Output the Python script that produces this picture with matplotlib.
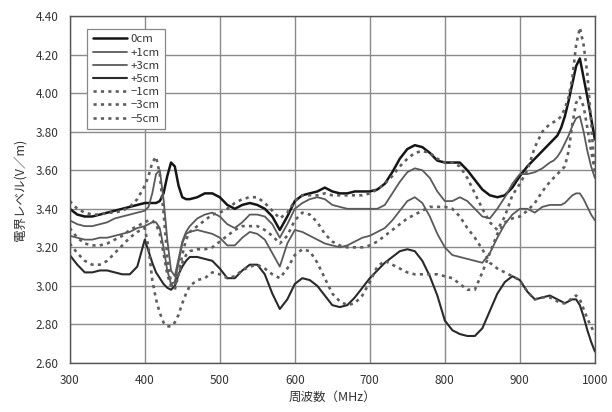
import matplotlib
matplotlib.use("Agg")
import matplotlib.pyplot as plt
import numpy as np

plt.rcParams["font.family"] = ["Noto Sans CJK JP", "DejaVu Sans"]

# frequency grid (MHz): 10 MHz steps, 5 MHz around the sharp resonances
freq = np.concatenate([np.arange(300, 401, 10), np.arange(405, 461, 5),
                       np.arange(470, 941, 10), np.arange(945, 1001, 5)])

# field level (V/m) per probe offset
p0 = [3.40, 3.37, 3.36, 3.36, 3.37, 3.38, 3.39, 3.40, 3.41, 3.42, 3.43,
      3.43, 3.43, 3.43, 3.44, 3.48, 3.57, 3.64, 3.62, 3.52, 3.46, 3.45, 3.45,
      3.46, 3.48, 3.48, 3.46, 3.42, 3.40, 3.42, 3.43, 3.42, 3.40,
      3.36, 3.29, 3.36, 3.44, 3.47, 3.48, 3.49, 3.51, 3.49, 3.48,
      3.48, 3.49, 3.49, 3.49, 3.50, 3.53, 3.59, 3.66, 3.71, 3.73,
      3.72, 3.69, 3.65, 3.64, 3.64, 3.64, 3.60, 3.55, 3.50, 3.47,
      3.46, 3.47, 3.51, 3.57, 3.62, 3.66, 3.70, 3.74,
      3.76, 3.78, 3.82, 3.88, 3.96, 4.05, 4.14, 4.18, 4.08, 3.98, 3.87, 3.76]

p1 = [3.34, 3.32, 3.31, 3.31, 3.32, 3.33, 3.35, 3.36, 3.37, 3.38, 3.39,
      3.41, 3.48, 3.58, 3.60, 3.45, 3.24, 3.08, 3.05, 3.14, 3.23, 3.28, 3.31,
      3.35, 3.37, 3.38, 3.36, 3.32, 3.30, 3.33, 3.37, 3.37, 3.36,
      3.32, 3.25, 3.32, 3.40, 3.43, 3.45, 3.46, 3.45, 3.42, 3.41,
      3.40, 3.40, 3.40, 3.40, 3.40, 3.42, 3.48, 3.54, 3.59, 3.61,
      3.60, 3.56, 3.49, 3.44, 3.44, 3.46, 3.44, 3.40, 3.36, 3.35,
      3.40, 3.46, 3.53, 3.58, 3.58, 3.59, 3.61, 3.64,
      3.65, 3.67, 3.70, 3.74, 3.78, 3.83, 3.87, 3.88, 3.80, 3.70, 3.62, 3.56]

p3 = [3.26, 3.25, 3.24, 3.24, 3.25, 3.25, 3.26, 3.27, 3.28, 3.30, 3.31,
      3.32, 3.33, 3.33, 3.30, 3.20, 3.08, 3.01, 3.02, 3.12, 3.22, 3.27, 3.28,
      3.29, 3.28, 3.27, 3.25, 3.21, 3.21, 3.25, 3.28, 3.27, 3.24,
      3.17, 3.10, 3.22, 3.29, 3.28, 3.26, 3.24, 3.22, 3.21, 3.20,
      3.21, 3.23, 3.25, 3.26, 3.28, 3.30, 3.34, 3.39, 3.44, 3.46,
      3.43, 3.36, 3.27, 3.20, 3.16, 3.15, 3.14, 3.13, 3.12, 3.17,
      3.25, 3.32, 3.37, 3.40, 3.40, 3.38, 3.41, 3.42,
      3.42, 3.42, 3.42, 3.43, 3.45, 3.47, 3.48, 3.48, 3.45, 3.41, 3.37, 3.34]

p5 = [3.16, 3.11, 3.07, 3.07, 3.08, 3.08, 3.07, 3.06, 3.06, 3.10, 3.24,
      3.18, 3.12, 3.07, 3.04, 3.01, 2.99, 2.98, 3.00, 3.06, 3.10, 3.13, 3.15,
      3.15, 3.14, 3.13, 3.09, 3.04, 3.04, 3.08, 3.11, 3.11, 3.06,
      2.96, 2.88, 2.93, 3.01, 3.04, 3.03, 3.00, 2.95, 2.90, 2.89,
      2.90, 2.94, 2.99, 3.04, 3.08, 3.12, 3.15, 3.18, 3.19, 3.18,
      3.13, 3.05, 2.95, 2.82, 2.77, 2.75, 2.74, 2.74, 2.78, 2.87,
      2.96, 3.02, 3.05, 3.03, 2.97, 2.93, 2.94, 2.95,
      2.94, 2.93, 2.92, 2.91, 2.92, 2.93, 2.93, 2.90, 2.84, 2.77, 2.71, 2.66]

m1 = [3.44, 3.40, 3.38, 3.37, 3.37, 3.38, 3.38, 3.39, 3.41, 3.45, 3.52,
      3.57, 3.64, 3.67, 3.58, 3.38, 3.15, 3.01, 2.98, 3.06, 3.16, 3.24, 3.28,
      3.31, 3.34, 3.37, 3.38, 3.40, 3.43, 3.45, 3.46, 3.46, 3.43,
      3.39, 3.35, 3.38, 3.44, 3.47, 3.47, 3.47, 3.48, 3.47, 3.47,
      3.47, 3.47, 3.47, 3.48, 3.50, 3.53, 3.57, 3.62, 3.66, 3.69,
      3.70, 3.69, 3.66, 3.64, 3.64, 3.62, 3.56, 3.48, 3.40, 3.33,
      3.29, 3.36, 3.47, 3.53, 3.60, 3.72, 3.80, 3.84,
      3.85, 3.86, 3.88, 3.92, 3.98, 4.08, 4.25, 4.34, 4.25, 4.10, 3.85, 3.58]

m3 = [3.22, 3.17, 3.13, 3.11, 3.11, 3.13, 3.17, 3.21, 3.25, 3.28, 3.30,
      3.20, 3.03, 2.93, 2.86, 2.81, 2.79, 2.79, 2.81, 2.85, 2.91, 2.96, 3.00,
      3.03, 3.04, 3.07, 3.06, 3.04, 3.05, 3.08, 3.10, 3.11, 3.09,
      3.06, 3.04, 3.09, 3.16, 3.19, 3.18, 3.12, 3.04, 2.96, 2.92,
      2.90, 2.91, 2.95, 3.02, 3.10, 3.13, 3.11, 3.09, 3.07, 3.06,
      3.06, 3.06, 3.06, 3.05, 3.04, 3.01, 2.98, 2.98, 3.07, 3.17,
      3.27, 3.33, 3.35, 3.36, 3.39, 3.43, 3.49, 3.54,
      3.56, 3.58, 3.60, 3.62, 3.70, 3.84, 3.95, 3.98, 3.93, 3.82, 3.70, 3.60]

m5 = [3.30, 3.25, 3.22, 3.21, 3.21, 3.22, 3.24, 3.26, 3.29, 3.31, 3.33,
      3.34, 3.34, 3.32, 3.27, 3.17, 3.06, 3.00, 3.00, 3.06, 3.12, 3.16, 3.18,
      3.19, 3.19, 3.20, 3.23, 3.26, 3.29, 3.31, 3.31, 3.31, 3.29,
      3.26, 3.22, 3.26, 3.34, 3.38, 3.37, 3.33, 3.27, 3.23, 3.21,
      3.20, 3.20, 3.20, 3.21, 3.23, 3.26, 3.29, 3.32, 3.35, 3.37,
      3.39, 3.41, 3.41, 3.41, 3.40, 3.36, 3.30, 3.25, 3.19, 3.12,
      3.09, 3.07, 3.05, 3.03, 2.97, 2.93, 2.94, 2.94,
      2.93, 2.92, 2.91, 2.91, 2.92, 2.94, 2.95, 2.93, 2.88, 2.83, 2.79, 2.75]

labels = ["0cm", "+1cm", "+3cm", "+5cm", "−1cm", "−3cm", "−5cm"]
series = [p0, p1, p3, p5, m1, m3, m5]

dots = (0, (1.2, 1.6))
styles = [
    dict(color="#151515", lw=1.8, ls="-"),
    dict(color="#5a5a5a", lw=1.3, ls="-"),
    dict(color="#5a5a5a", lw=1.3, ls="-"),
    dict(color="#2a2a2a", lw=1.5, ls="-"),
    dict(color="#5e5e5e", lw=1.9, ls=dots),
    dict(color="#5e5e5e", lw=1.9, ls=dots),
    dict(color="#5e5e5e", lw=1.9, ls=dots),
]

fig = plt.figure(figsize=(6.12, 4.12), dpi=100)
ax = fig.add_axes([0.114, 0.119, 0.858, 0.842])

for vals, lab, st in zip(series, labels, styles):
    ax.plot(freq, vals, label=lab, solid_capstyle="round", **st)

ax.set_xlim(300, 1000)
ax.set_ylim(2.60, 4.40)
ax.set_xticks(np.arange(300, 1001, 100))
ax.set_yticks(np.arange(2.60, 4.41, 0.20))
ax.set_yticklabels([f"{v:.2f}" for v in np.arange(2.60, 4.41, 0.20)])
ax.grid(True, color="#8a8a8a", lw=1.0)
ax.set_axisbelow(True)
ax.tick_params(length=0, labelsize=8.5, colors="#333333", pad=8)
for s in ax.spines.values():
    s.set_color("#555555")
    s.set_linewidth(1.0)

ax.set_xlabel("周波数（MHz）", fontsize=9, color="#333333", labelpad=3)
ax.set_ylabel("電界レベル(V／m)", fontsize=9, color="#333333", labelpad=6)

leg = ax.legend(loc="upper left", bbox_to_anchor=(0.022, 0.98), fontsize=8.2,
                handlelength=3.0, labelspacing=0.28, handletextpad=0.3,
                borderpad=0.5, fancybox=False, framealpha=1.0)
leg.get_frame().set_edgecolor("#888888")
leg.get_frame().set_linewidth(0.9)
for t in leg.get_texts():
    t.set_color("#333333")

fig.savefig("out.png", dpi=100)
